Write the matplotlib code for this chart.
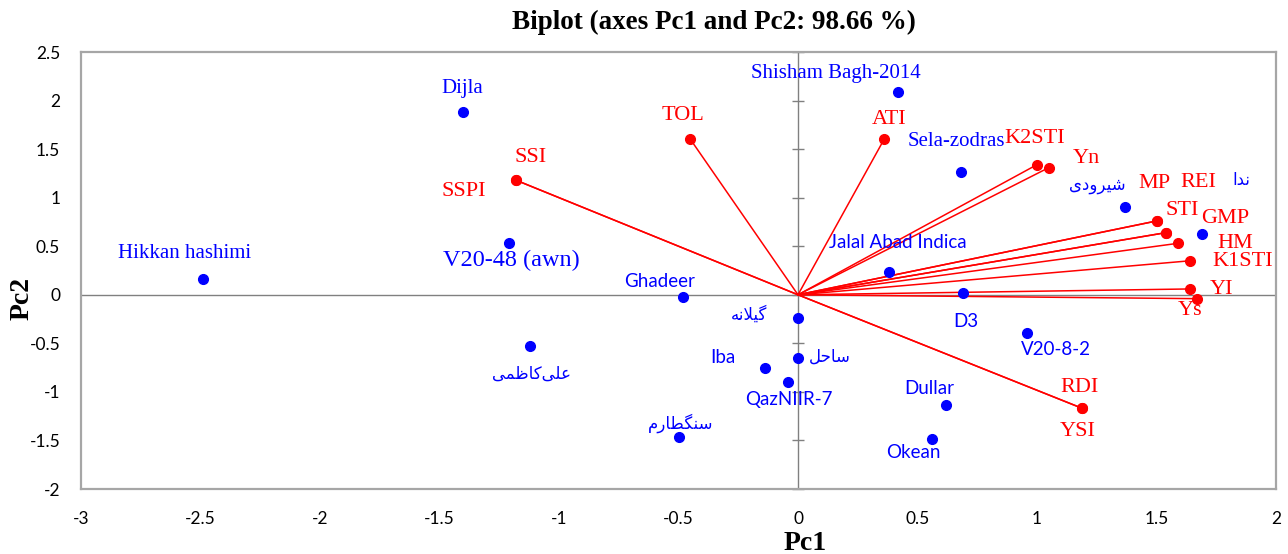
import matplotlib

matplotlib.use("Agg")
import matplotlib.pyplot as plt
import numpy as np

# 観測値 (品種) の主成分得点
obs_names = [
    "Hikkan hashimi", "Dijla", "V20-48 (awn)", "Ghadeer", "علی‌کاظمی",
    "گیلانه", "Iba", "ساحل", "QazNIIR-7", "سنگطارم", "Dullar", "Okean",
    "D3", "V20-8-2", "Jalal Abad Indica", "Sela-zodras", "Shisham Bagh-2014",
    "شیرودی", "ندا",
]
obs_pc1 = [-2.49, -1.40, -1.21, -0.48, -1.12, 0.00, -0.14, 0.00, -0.04, -0.50,
           0.62, 0.56, 0.69, 0.96, 0.38, 0.68, 0.42, 1.37, 1.69]
obs_pc2 = [0.16, 1.88, 0.53, -0.02, -0.53, -0.24, -0.75, -0.65, -0.90, -1.46,
           -1.14, -1.48, 0.02, -0.39, 0.23, 1.26, 2.09, 0.90, 0.63]

# 指標 (変数) の負荷量
var_names = ["SSI", "SSPI", "TOL", "ATI", "K2STI", "Yn", "MP", "STI", "REI",
             "GMP", "HM", "K1STI", "YI", "Ys", "RDI", "YSI"]
var_pc1 = [-1.18, -1.18, -0.45, 0.36, 1.00, 1.05, 1.50, 1.50, 1.54,
           1.54, 1.59, 1.64, 1.64, 1.67, 1.19, 1.19]
var_pc2 = [1.18, 1.18, 1.60, 1.60, 1.34, 1.31, 0.76, 0.76, 0.64,
           0.64, 0.53, 0.35, 0.06, -0.04, -1.17, -1.17]

x_ticks = np.arange(-3, 2.01, 0.5)
y_ticks = np.arange(-2, 2.51, 0.5)

# ラベル位置 (点からのピクセルオフセット)
obs_offsets = {
    "Hikkan hashimi": (-18, 26), "Dijla": (-1, 24), "V20-48 (awn)": (3, -17),
    "Ghadeer": (-24, 15), "علی‌کاظمی": (1, -27), "گیلانه": (-49, 3),
    "Iba": (-42, 10), "ساحل": (32, 1), "QazNIIR-7": (0, -17),
    "سنگطارم": (2, 13), "Dullar": (-17, 17), "Okean": (-18, -14),
    "D3": (3, -29), "V20-8-2": (28, -17), "Jalal Abad Indica": (9, 30),
    "Sela-zodras": (-4, 31), "Shisham Bagh-2014": (-63, 18),
    "شیرودی": (-28, 22), "ندا": (39, 54),
}
var_offsets = {
    "SSI": (15, 23), "SSPI": (-52, -11), "TOL": (-8, 24), "ATI": (5, 20),
    "K2STI": (-2, 26), "Yn": (37, 9), "MP": (-2, 37), "STI": (26, 10),
    "REI": (32, 50), "GMP": (59, 14), "HM": (57, 0), "K1STI": (53, -1),
    "YI": (32, -1), "Ys": (-7, -12), "RDI": (-3, 21), "YSI": (-5, -23),
}
serif_obs = ["Hikkan hashimi", "Dijla", "Shisham Bagh-2014", "Sela-zodras"]

SERIF = "Liberation Serif"
SANS = "Lato"

# ペルシア語の簡易シェーピング (孤立/語末/語頭/語中形)
FORMS = {
    "\u0627": ("\uFE8D", "\uFE8E", None, None),
    "\u062F": ("\uFEA9", "\uFEAA", None, None),
    "\u0631": ("\uFEAD", "\uFEAE", None, None),
    "\u0648": ("\uFEED", "\uFEEE", None, None),
    "\u062D": ("\uFEA1", "\uFEA2", "\uFEA3", "\uFEA4"),
    "\u0633": ("\uFEB1", "\uFEB2", "\uFEB3", "\uFEB4"),
    "\u0634": ("\uFEB5", "\uFEB6", "\uFEB7", "\uFEB8"),
    "\u0637": ("\uFEC1", "\uFEC2", "\uFEC3", "\uFEC4"),
    "\u0638": ("\uFEC5", "\uFEC6", "\uFEC7", "\uFEC8"),
    "\u0639": ("\uFEC9", "\uFECA", "\uFECB", "\uFECC"),
    "\u0644": ("\uFEDD", "\uFEDE", "\uFEDF", "\uFEE0"),
    "\u0645": ("\uFEE1", "\uFEE2", "\uFEE3", "\uFEE4"),
    "\u0646": ("\uFEE5", "\uFEE6", "\uFEE7", "\uFEE8"),
    "\u0647": ("\uFEE9", "\uFEEA", "\uFEEB", "\uFEEC"),
    "\u06A9": ("\uFB8E", "\uFB8F", "\uFB90", "\uFB91"),
    "\u06AF": ("\uFB92", "\uFB93", "\uFB94", "\uFB95"),
    "\u06CC": ("\uFBFC", "\uFBFD", "\uFBFE", "\uFBFF"),
}


def is_persian(s):
    return any(c in FORMS for c in s)


def shape(s):
    if not is_persian(s):
        return s
    dual = lambda c: c in FORMS and FORMS[c][2] is not None
    out = []
    i = 0
    while i < len(s):
        c = s[i]
        if c not in FORMS:
            if c != "\u200c":
                out.append(c)
            i += 1
            continue
        prev = s[i - 1] if i > 0 else ""
        nxt = s[i + 1] if i + 1 < len(s) else ""
        left = dual(prev)
        if c == "\u0644" and nxt == "\u0627":
            out.append("\uFEFC" if left else "\uFEFB")
            i += 2
            continue
        right = dual(c) and nxt in FORMS
        iso, fin, ini, med = FORMS[c]
        if left and right:
            out.append(med)
        elif left:
            out.append(fin)
        elif right:
            out.append(ini)
        else:
            out.append(iso)
        i += 1
    return "".join(reversed(out))


fig = plt.figure(figsize=(12.88, 5.54), dpi=100)
ax = fig.add_axes([81 / 1288, 1 - 489 / 554, 1195 / 1288, 437 / 554])

ax.set_xlim(-3, 2)
ax.set_ylim(-2, 2.5)
ax.set_xticks(x_ticks)
ax.set_yticks(y_ticks)
ax.set_xticklabels([f"{v:g}" for v in x_ticks])
ax.set_yticklabels([f"{v:g}" for v in y_ticks])
ax.tick_params(length=0, labelsize=12.5, colors="black")
ax.tick_params(axis="x", pad=16)
ax.tick_params(axis="y", pad=15)
for lab in ax.get_xticklabels() + ax.get_yticklabels():
    lab.set_family(SANS)

for sp in ax.spines.values():
    sp.set_color("#a6a6a6")
    sp.set_linewidth(1.6)

# 原点を通る軸
ax.axhline(0, color="#808080", lw=1.0, zorder=1)
ax.axvline(0, color="#808080", lw=1.0, zorder=1)
ax.plot(np.zeros_like(y_ticks), y_ticks, ls="none", marker="_", ms=9,
        mew=1.0, color="#808080", zorder=1, clip_on=False)

# 変数ベクトル
for x, y in zip(var_pc1, var_pc2):
    ax.plot([0, x], [0, y], color="red", lw=1.1, zorder=2)
ax.plot(var_pc1, var_pc2, ls="none", marker="o", ms=7, color="red", zorder=3)

# 観測値
ax.plot(obs_pc1, obs_pc2, ls="none", marker="o", ms=7, color="blue", zorder=3)

for name, x, y in zip(obs_names, obs_pc1, obs_pc2):
    if is_persian(name):
        kw = dict(family=["DejaVu Sans"], fontsize=12)
    elif name == "V20-48 (awn)":
        kw = dict(family=SERIF, fontsize=17.5)
    elif name in serif_obs:
        kw = dict(family=SERIF, fontsize=15)
    else:
        kw = dict(family=SANS, fontsize=13.5)
    ax.annotate(shape(name), (x, y), xytext=obs_offsets[name],
                textcoords="offset pixels", ha="center", va="center",
                color="blue", zorder=4, **kw)

for name, x, y in zip(var_names, var_pc1, var_pc2):
    ax.annotate(name, (x, y), xytext=var_offsets[name],
                textcoords="offset pixels", ha="center", va="center",
                color="red", family=SERIF, fontsize=16, zorder=4)

fig.text(714 / 1288, 1 - 22 / 554, "Biplot (axes Pc1 and Pc2: 98.66 %)",
         ha="center", va="center", family=SERIF, fontweight="bold",
         fontsize=19.5)
fig.text(805 / 1288, 1 - 550 / 554, "Pc1", ha="center", va="baseline",
         family=SERIF, fontweight="bold", fontsize=20)
fig.text(22 / 1288, 1 - 298 / 554, "Pc2", ha="center", va="center",
         rotation=90, family=SERIF, fontweight="bold", fontsize=20)

fig.savefig("out.png", dpi=100)
plt.close(fig)
